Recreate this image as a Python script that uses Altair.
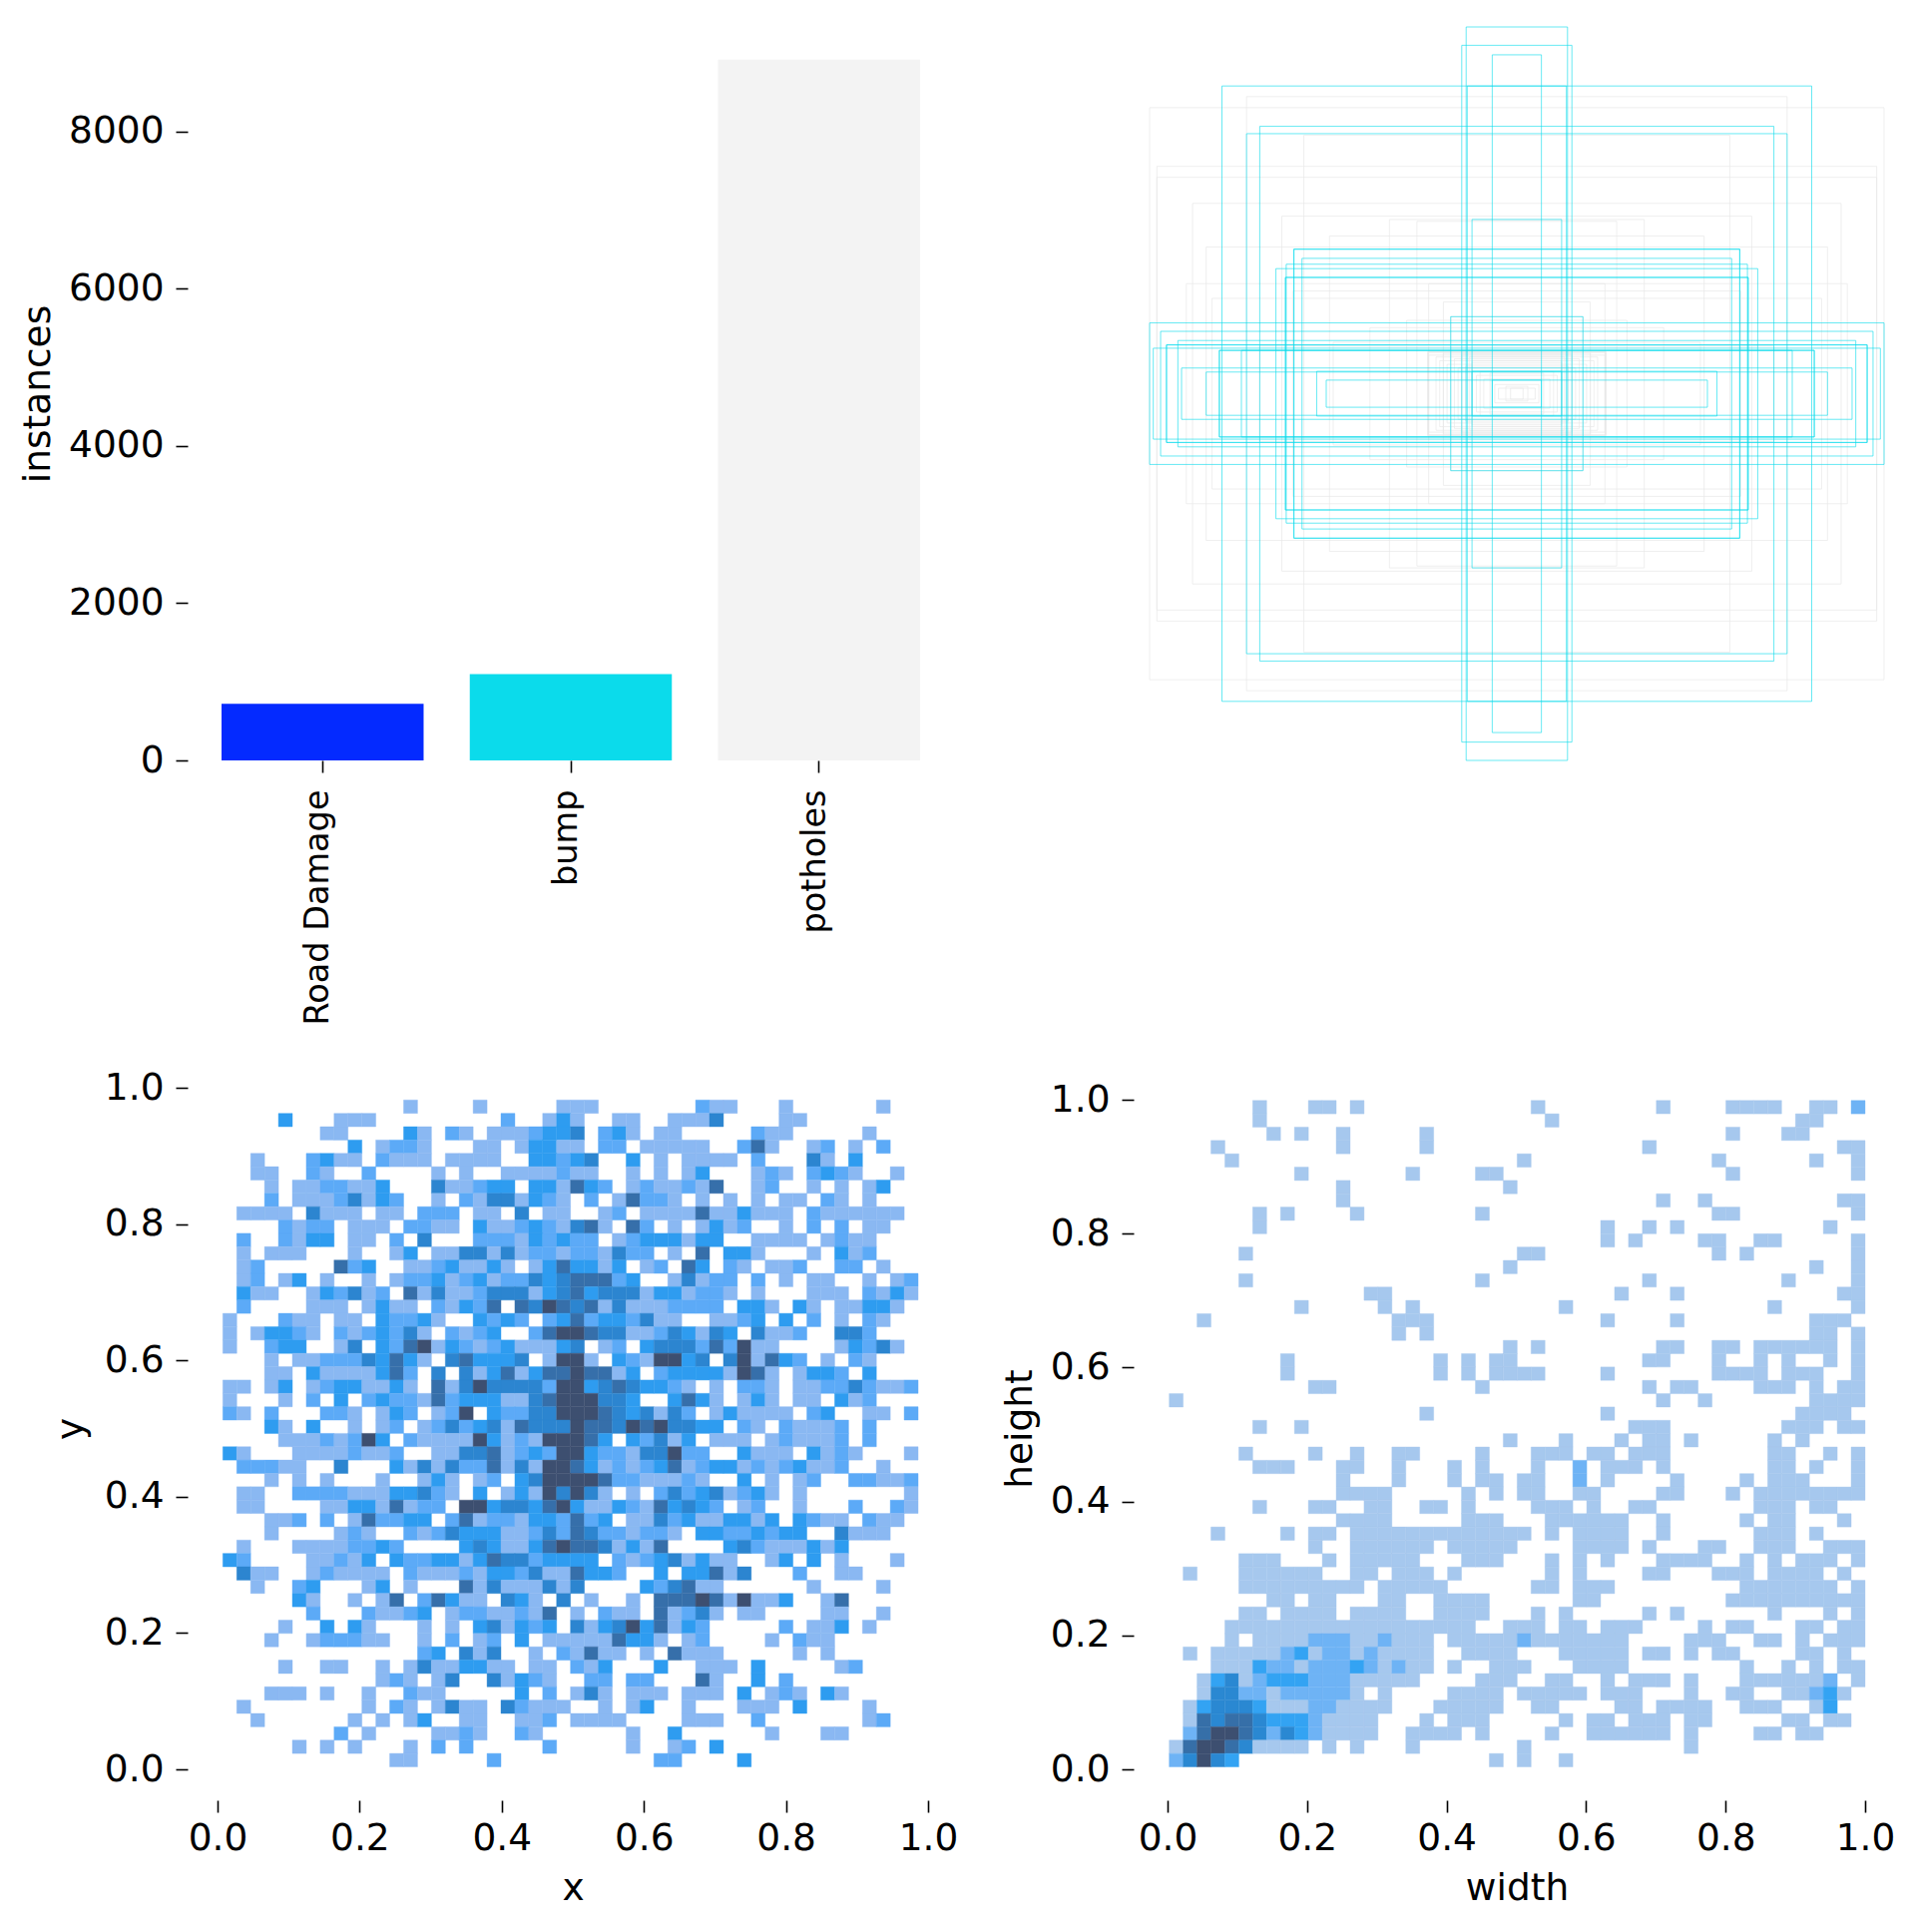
import altair as alt
import pandas as pd

# ---------- top-left: instance counts ----------
CLASSES = ["Road Damage", "bump", "potholes"]
INSTANCES = [719, 1098, 8913]
CLASS_COLORS = ["#042AFF", "#0BDBEB", "#F3F3F3"]
Y_TICKS = [0, 2000, 4000, 6000, 8000]

# ---------- top-right: label boxes, (width, height) as fraction of the canvas, all centred ----------
BUMP_BOXES = [
    (.138, 1.0), (.15, .95), (.067, .924), (.803, .839), (.70, .729), (.736, .709), (.135, .839),
    (.122, .475), (.607, .394), (.607, .394), (.585, .369), (.628, .353), (.63, .317), (.63, .317),
    (1.0, .193), (.97, .17), (.923, .145), (.954, .133), (.954, .133), (.99, .124), (.81, .118), (.81, .118),
    (.18, .21), (.545, .061), (.519, .037), (.913, .07), (.846, .059), (.122, .061), (.067, .037),
    (.75, .118), (.656, .341),
]
POTHOLE_BOXES = [
    (1.0, .78), (.98, .62), (.98, .59), (.883, .519), (.736, .81), (.64, .484), (.272, .47), (.347, .475),
    (.58, .705), (.846, .40), (.83, .26), (.51, .43), (.61, .28), (.242, .115), (.242, .115), (.242, .112),
    (.15, .11), (.15, .105), (.122, .09), (.122, .085), (.073, .056), (.05, .015), (.017, .015),
    (.2, .25), (.18, .21), (.24, .3), (.3, .2), (.4, .18), (.5, .14), (.7, .13), (.9, .3),
    (.06, .025), (.03, .02), (.1, .06), (.13, .1), (.16, .07), (.21, .09), (.24, .105), (.19, .08),
    (.22, .1), (.17, .095), (.14, .075), (.11, .05), (.2, .11), (.09, .04),
]

# ---------- bottom: 2-D histograms, each row lists "column:level" cells, top row first ----------
XY_ROWS = [
"13 18 24 25 26 34:2 35 36 40 47",
"4:3 8-10 20:2 23 24:3 25 28 29 32-34 35:4 40 41",
"7 8 13:3 14 16:2 17 19-21 22:2 23:3 24:3 25:4 27:2 28:3 29 31 32 38:2 39 40 46",
"9:3 11 12:2 13:2 14 18 19 21 22:3 23:3 24 25 27:2 28:2 30-32 33 34 37:2 38:5 39 42 43:2 45 47:2",
"2 6:2 7:3 8 9 11:2 12-14 16-19 22:3 23:3 24:2 25:3 26:4 29:3 31 33 34-36 38:2 42:4 43 45:3",
"2 3 6:2 7 10:2 15 17 20-23 24:2 25 26 29 31 33 34:3 38 39:2 40 42:2 43:3 44:2 45 48",
"3 5 6 7:2 8:2 9 10 11:3 15:4 16 17 18:2 19:3 20:3 22:3 23:3 24 25:5 26:3 27:2 29 30:2 31 32 33:2 34 35:5 38 39:2 42 44 46 47:3",
"3:2 5-7 8:2 9:4 10 11:3 12:2 15 17:2 18 19:4 20:4 21 22:3 23:2 24 26:2 28 29:5 30:2 31:2 32 34 36 38 40 41 43:2 44 46",
"1-4 6:4 7-9 11 12 14-16:2 18 19 21:4 23 24 27 28:2 30-33 34:5 35 36 37:3 38-40 42:2 43 44 45-48",
"4:2 5 6:2 7:2 9-11 13:2 14:2 15 16 18:3 19 20 21:2 22:3 23:2 24 25:4 26:5 27 29:5 30:2 32 34 35:3 36 37:2 40 42:2 44:2 46 47",
"1:2 4:2 5 6:3 7:3 9 10 12:2 14:4 18-20:2 21 22:3 23:2 24:3 25:2 26:2 28 29:2 30-32:3 33 34:3 35:3 38-41 43 44:2 45 46",
"1 3-5 9 12 13:3 15 16 17:4 18:4 19 20:4 21 22:2 23:2 24 25:2 26:2 27 28:4 29:2 30:2 32 34:5 36:3 37:3 38 42 44:3 45 46:2",
"1 2:2 8:5 9:2 10:3 13 14 15:2 16:3 17 18 19:3 20 22 23:3 24:5 25:3 26:3 27 28:3 30 31:2 33:5 34:3 36:2 37 39 40 41:2 44:2 45:2 47",
"1 2:2 4 5:3 7 10 12 13:2 14:2 15:3 16 17:2 18:3 19 20:2 21:2 22:4 23:3 24:4 25:5 26:5 27:5 28:2 29:3 32 33:4 34 35:2 36:2 38:2 40 42 43 46 48 49:2",
"1:3 2 3 6 7:3 8:2 9:4 10 11:2 13:5 14 15:4 16 17 18:2 19-21:4 22 23:3 24:4 25:5 26:3 27-29:4 30 31:3 32:3 33 34:2 35:2 36 38 42-44 46:2 47 48:3 49",
"1:2 6-8 10 11:3 12 13 15:2 16 17:3 18:2 19:5 21:5 22:4 23:6 24:5 25:4 26:5 27 28:4 29-31 32-35:2 37:3 38:3 39 41:3 42 44 45 46:3 47:3 48",
"0 4:2 5 6 8 9 11:3 12:2 13:2 14:3 15 18:3 19:2 20:3 21:2 23:2 24:3 25:5 26:2 27:3 28:3 29:2 30:4 31 32 35 36 37:2 38:3 40:3 42:2 44 46:2 47",
"0 2 3:3 4:3 5:2 6 8:2 9 10:2 11:3 12:2 13:4 14 16:2 17 18:2 19:3 22:2 23:5 24:6 25:6 26:5 27:4 28:4 29 30 31:2 32:4 33:3 34 35:4 36:3 38:4 39 40 41:2 44:4 45:4 46:2",
"0 3:2 4:3 5:3 8 9:4 11:3 12:2 13:5 14:6 15 16:3 17:2 18 19:2 20:3 21-23 24:3 25:4 27 28:2 30:3 31-33:4 34:2 35:5 36:2 37:6 38 39 44 45:3 46:2 47:4 48",
"3 5 6 7-9:2 10:4 11:3 12:5 13:3 14 16:4 17:5 18-20:3 21:4 23 24:6 25:6 26 28:3 29:2 30 31:6 32:6 33:3 34:4 36:4 37:6 38 39:5 40:3 41:2 43 45:2 46",
"3 4 6:3 7-10 11:3 12:5 13:2 15:4 17:4 18 19:3 20:5 21 22:3 23:5 24:5 25:6 26:5 27:5 28 29:3 31:2 32:3 33:3 34:3 35:3 36 37:6 38:5 39 41 42:3 43:3 44:2 46:3",
"0 1 3 4:3 6 7:2 8:3 9:3 10 11 12:3 13 15:5 16 17:4 18:6 19:4 20-22:4 23:2 24:6 25:6 26:3 27:4 28:5 29:4 30:3 31:3 32:2 33 35 37:2 38:2 39 41 42 43:2 44:2 45:4 46:2 47 48 49:2",
"0 4 6:2 8:3 10:2 11:3 12:2 13:2 14 15:5 16:2 17:3 18:3 19:3 20 21 22:4 23:5 24:6 25:6 26:6 27:4 28:4 29:3 32:3 33:5 34:3 35 37 38:3 39 41 42 44:3 45 46:2",
"0:2 1 3:2 7:2 8:2 9 11 12:3 13:2 15 16:2 17:6 19:3 20:2 21:2 22:4 23:4 24:6 25:6 26:6 27:5 28:4 29:3 30:4 31 32:4 33:2 35 36:3 37-40 42:2 43:3 46 47 49:2",
"3:3 4 6:3 9 11 12:2 14 15:2 16:4 17:2 18:3 19:4 20 21:5 22:4 23:4 24:4 25:6 26:5 27:5 28:4 29:6 30:5 31:6 32:4 33:4 34:3 35:3 37:2 38 40:2 41 42 43 44:2 46:2",
"4-6 7:2 8 9:2 10:6 11:3 13:2 14-17 18:6 19:3 20 21:2 22 23:6 24:6 25:6 26:5 27:3 29:3 30:2 31:4 32 33:3 35-37 39 40:2 41-43 44:2 46:2",
"0:3 1 5-7 8 9:2 10 11 12:2 15-16 17:4 18:4 19:5 20 21:2 22:3 23:2 24:6 25:6 26:3 27:2 28:2 29 30:4 31:4 32:6 33:2 34:2 37:3 38-40 42:3 43 44:2 45 49",
"1-3:2 4 5 8:4 12:3 13 14:4 15 16:4 17:2 18:2 19:5 20 21:4 22 23:6 24:6 25:5 26:3 27 28:2 29 30:2 31:3 32:5 33 34:2 35:3 36:3 37 38:2 39 40:2 41:3 42 43 44:2 47",
"3 5 7 11 14 15:3 16 18 19:2 21:3 22:4 23:6 24:6 25:6 26:6 27:5 28:2 29:2 30-32 33:2 34 37:3 39 41 42:2 45:2 46:2 47 48 49:2",
"1 2 5-8:2 9-11 12:3 13:3 14:4 15:2 16 18:3 20 21:3 22 23:6 24:4 25:6 26:4 27 29 31:2 32:4 33:2 34:3 35:4 36 37:2 38:3 39 41 49",
"1 2 7 8 9:3 10:3 11 12:5 13 14:2 15:2 17:6 18:6 19:3 20:4 21:4 22:3 23:5 24:6 25:3 26 27 28:3 29:2 30 31:5 32:3 33:4 34:3 35:2 37 38:2 41 45:2 48:2 49",
"3 4 5:2 7:2 9 10:5 11:2 12:2 13:3 14:3 16:2 17:5 18 19:2 20:2 21 22:3 23:3 24:2 25:5 26:2 27:3 29 30 31:4 32:2 33:3 34 35 36:3 37:3 38 39:3 41:3 42:2 43 44 46:2 47 48",
"3 8 9:2 10 13:2 14 15:2 16:4 17-19:3 20 21 22:2 23:4 24:2 25:5 26:4 27:2 28:2 29 30:2 31:2 32 34:3 35:3 36:2 37:2 38:3 39:2 40:3 41:3 44:4 45-47",
"1 5-8 9:2 10:2 11:3 12:2 17:3 18:4 19:3 20 21 22:3 23:5 24:6 25:5 26:5 27:4 28 29:3 30 31:5 36:3 37:4 38:2 39-41 42:3 43 44:3",
"0:3 1:2 6 7 8:2 9 10:3 12:3 13:2 14:2 15:3 16:3 17 18:3 19:5 20:4 21:4 22:2 23:3 24:3 25:3 26:3 28:2 29 30:2 31:3 32:4 33 34:3 35 36 39 40:3 42:3 44 48",
"1:4 2 3 6 7:2 8-11 13:2 14-16 17:2 18 19:3 20:3 21:2 22:4 23 24 25:5 26:3 27:3 28:2 31:3 33:3 34:3 35:5 36 37:4 41:2 44 45",
"2 5:2 6:3 10 11:3 13 17:5 18 19:4 20-22 23:4 24 25:4 30:3 31:2 32:4 33:5 34 35 42 47",
"5:3 6 9 11 12:5 14:2 15:5 16:3 17 18 20:4 21:3 22 24:4 26 29 31:5 32:5 33:5 34:6 35:5 36 37:6 38 39 40:3 43 44:5",
"6:2 10:2 11 12 13:2 14:3 16 17:2 18:2 19 20 21:2 22 23:5 25 27:2 28 29 31:5 32 33:2 34:4 35 37 38 43 44 47",
"4 7:3 9:3 10 14 16 18:3 19:4 20 21:3 22:2 23:3 25:4 26 27:3 28:4 29:6 30:3 31:5 32 33:3 34:2 40:2 42 43 44:3 46",
"3 6 7:2 8:2 9:2 10 11 14 16:2 18 19:2 21:3 23 24 25 26 27 28:5 29:3 30:3 31 33 34:2 39 41:2 42 43",
"14:2 15:3 17:4 18 19:4 22 24:2 25 26:5 27 28 30 32:5 33-35 41 43",
"4 7 8 11 13 14:4 15 16 17:3 18:3 19 20 22 23 25:2 26 27:3 31:3 34-36 38:3 44 45:2",
"11 12:2 13 15 16:4 19:4 20 21:3 22:2 23 26:2 27:2 29:2 30:2 34:5 35 38:3 40:2",
"3-5 7 10 13:2 14 15 21:3 23:2 25 26:4 27 29-31 33-35 37:3 39 40:2 41 43:3 44",
"1 10 12:2 13 15 16:4 17 18 20:4 21:2 22 23 24 27 29 30:3 33 37-39 41:3 46",
"2 9 11 13 14:3 17 18 21 22 23:2 25-28 33-35 38:2 46 47:2",
"8:2 10 15 16 17:2 18 21:2 22 29 32:3 39 43 44",
"5 7 9 13 15:2 17:2 23:2 29 32 33:2 35:3",
"12 13 19:2 31:2 32:2 37:3",
]

WH_ROWS = [
"6 10 11 13 26 35 40-43 46 47 49:2",
"6 27 45 46",
"7 9 12 18 40 44 45",
"3 12 18 34 48 49",
"4 25 39 46 49",
"9 17 22 23 40 49",
"12 24",
"12 35 38 48 49",
"6 8 13 22 39 40 49",
"6 31 34 36 47",
"31 33 38 39 42 43 49",
"5 25 26 39 41 49",
"24 46 49",
"5 22 34 44 49",
"14 15 32 36 48 49",
"9 15 17 28 43 49",
"2 16-18 31 36 46-48",
"16 18 46 47 49",
"24 26 35 36 39 40 42-47 49",
"8 19 21 23 24 34 35 39 42 44 47 49",
"8 19 21 23-26 31 39-42 44-46 49",
"10 11 22 34 36 37 42-44 46 48 49",
"0 35 38 46-49",
"18 31 45-48",
"6 9 33-35 44-46 48 49",
"24 28 32 34 35 37 43 45",
"5 10 13 16 17 22 26-28 30 31 33-35 43 44 47 49",
"6-8 12 13 16 20 22 26 29:2 31-33 35 43 44 46 49",
"12 16 20 22 23 25 26 29:2 31 36 41 43-45 49",
"12-15 21 23 25 26 29 30 35 36 40 42-49",
"6 10 11 14 15 18 19 21 26-28 30 33 34 42-44 46 47",
"12-15 21-23 27-32 35 41 43 44 48",
"3 8 10 11 13-25 27 29-32 35 42-44 46",
"10 13-18 20-24 29-32 34 38 39 42-44 47-49",
"5-7 11 13-17 21-23 27 29 31 35-38 41 43 45-47 49",
"1 5-10 13 14 16-18 20 27 29 34 35 39-41 43-46 48",
"5-13 15-19 26 27 29-31 41-47 49",
"7 8 10 11 15 16 19-22 29 30 40-49",
"5 6 8-11 13-16 19-22 26 28 34 36 43 47 49",
"4-21 24 25 26 28 29 31-33 38 40 41 45 46 48 49",
"4 6-9 10:2 11:2 12:2 13 14 15:2 16-18 20-24 25:2 26-32 37-39 42 43 45 47-49",
"1 3-7 8:2 9:3 10 11:2 12:2 13 14:2 15-18 21-24 28-32 34 35 37 39 40 45 46 48",
"3 4 5 6:3 7:2 8:2 9 10-12:2 13:3 14:2 15 16:2 17 18 20 23-25 29-32 41 44 46 48 49",
"2 3:3 4:4 5 6:2 7-9:3 10-12:2 13-17 22-24 27 28 31 33-35 37 41-46 47:2 49",
"2 3:4 4:4 5:2 6:2 7 8-12:2 13 15 20-23 25-29 31-33 37 40 41 44 45 46:2 47:3 48",
"1 2:3 3-5:4 6:3 7-9 10:2 11:2 12-15 19-23 26 27 32 33 35-38 41-43 46 47:3",
"1 2:5 3:4 4:5 5:5 6:4 7-9:3 10:2 11 12-14 18 20-22 28 30 31 33-35 37 38 44 45 47 48",
"1:2 2:5 3:6 4:6 5:5 6:4 7:2 8:4 9:3 10:2 11-14 17-20 22 27 30-35 37 42 43 45 46",
"0 1:5 2:6 3:6 4:5 5:4 6-9 11 13 17 25 37",
"0:2 1:4 2:6 3:4 4:3 23 25 28",
]

LEVELS = [1, 2, 3, 4, 5, 6]
XY_COLORS = ["#8ab8f2", "#5caaf7", "#2e9cf0", "#2c85d0", "#366faa", "#3d4f70"]
WH_COLORS = ["#a6c8ee", "#6eb3f5", "#33a3f3", "#2a88d2", "#366fa8", "#3d4f70"]
UNIT_TICKS = [0.0, 0.2, 0.4, 0.6, 0.8, 1.0]

FONT = "DejaVu Sans"
FS = 37.5


def cells(rows, xmin, xmax, ymin, ymax):
    dx = (xmax - xmin) / 50
    dy = (ymax - ymin) / 50
    out = []
    for r, row in enumerate(rows):
        for tok in row.split():
            span, _, lvl = tok.partition(":")
            a, _, b = span.partition("-")
            for c in range(int(a), int(b or a) + 1):
                out.append({"x0": xmin + c * dx, "x1": xmin + (c + 1) * dx,
                            "y0": ymax - (r + 1) * dy, "y1": ymax - r * dy,
                            "level": int(lvl or 1)})
    return pd.DataFrame(out)


def axis(**kw):
    base = dict(domain=False, grid=False, tickSize=12, tickWidth=1.6, tickColor="#000",
                labelFont=FONT, labelFontSize=FS, labelColor="#000", labelFlush=False, labelLimit=600,
                labelOverlap=False,
                titleFont=FONT, titleFontSize=FS, titleFontWeight="normal", titleColor="#000")
    base.update(kw)
    return alt.Axis(**base)


W, H = 712, 735
W2 = 736
H2 = 683

bars = (
    alt.Chart(pd.DataFrame({"name": CLASSES, "n": INSTANCES}))
    .mark_bar()
    .encode(
        x=alt.X("name:N", sort=CLASSES, title=None,
                scale=alt.Scale(domain=CLASSES, range=[4, 704], paddingInner=0.186, paddingOuter=0),
                axis=axis(labelAngle=270, labelAlign="right", labelBaseline="middle", labelPadding=17,
                          labelOffset=-4, labelFontSize=33.5)),
        y=alt.Y("n:Q", title="instances", scale=alt.Scale(domain=[0, 9330], nice=False),
                axis=axis(values=Y_TICKS, format="d", offset=30, labelPadding=12, titlePadding=11)),
        color=alt.Color("name:N", scale=alt.Scale(domain=CLASSES, range=CLASS_COLORS), legend=None),
    )
    .properties(width=W, height=H)
)


def box_layer(boxes, color, op):
    df = pd.DataFrame(boxes, columns=["w", "h"])
    df["x0"], df["x1"] = 0.5 - df.w / 2, 0.5 + df.w / 2
    df["y0"], df["y1"] = 0.5 - df.h / 2, 0.5 + df.h / 2
    return alt.Chart(df).mark_rect(filled=False, fillOpacity=0, stroke=color, strokeWidth=1, strokeOpacity=op).encode(
        x=alt.X("x0:Q", axis=None, scale=alt.Scale(domain=[0, 1], nice=False, zero=False)),
        x2="x1:Q",
        y=alt.Y("y0:Q", axis=None, scale=alt.Scale(domain=[0, 1], nice=False, zero=False)),
        y2="y1:Q",
    )


boxes = (box_layer(POTHOLE_BOXES, "#e8e8e8", 0.7) + box_layer(BUMP_BOXES, "#0BDBEB", 0.62)).properties(width=W2, height=H)


def heat(rows, colors, xrange_, yrange_, xdom, ydom, xtitle, ytitle, w, yoff, xtp=13, ytp=10):
    sc = alt.Scale(domain=LEVELS, range=colors)
    return (
        alt.Chart(cells(rows, *xrange_, *yrange_))
        .mark_rect(strokeWidth=0.4)
        .encode(
            x=alt.X("x0:Q", title=xtitle, scale=alt.Scale(domain=xdom, nice=False, zero=False),
                    axis=axis(values=UNIT_TICKS, format=".1f", offset=31, labelPadding=7, titlePadding=xtp)),
            x2="x1:Q",
            y=alt.Y("y0:Q", title=ytitle, scale=alt.Scale(domain=ydom, nice=False, zero=False),
                    axis=axis(values=UNIT_TICKS, format=".1f", offset=yoff, labelPadding=12, titlePadding=ytp)),
            y2="y1:Q",
            color=alt.Color("level:O", scale=sc, legend=None),
            stroke=alt.Stroke("level:O", scale=sc, legend=None),
        )
        .properties(width=w, height=H2)
    )


xy = heat(XY_ROWS, XY_COLORS, (0.0075, 0.986), (0.0037, 0.982), [0, 1], [0, 1], "x", "y", W, 30, ytp=14)
wh = heat(WH_ROWS, WH_COLORS, (0.0024, 1.0), (0.0037, 0.999), [-0.02575, 1.02718], [0, 1.018], "width", "height", W2, 16, ytp=11)

chart = (
    alt.concat(bars, boxes, xy, wh, columns=2, spacing={"row": 43, "column": 43})
    .resolve_scale(color="independent", stroke="independent")
    .properties(padding={"left": 11, "top": 18, "right": 0, "bottom": 10}, background="white")
    .configure_view(strokeWidth=0)
)

chart.save("out.html", embed_options={"renderer": "svg", "actions": False})
